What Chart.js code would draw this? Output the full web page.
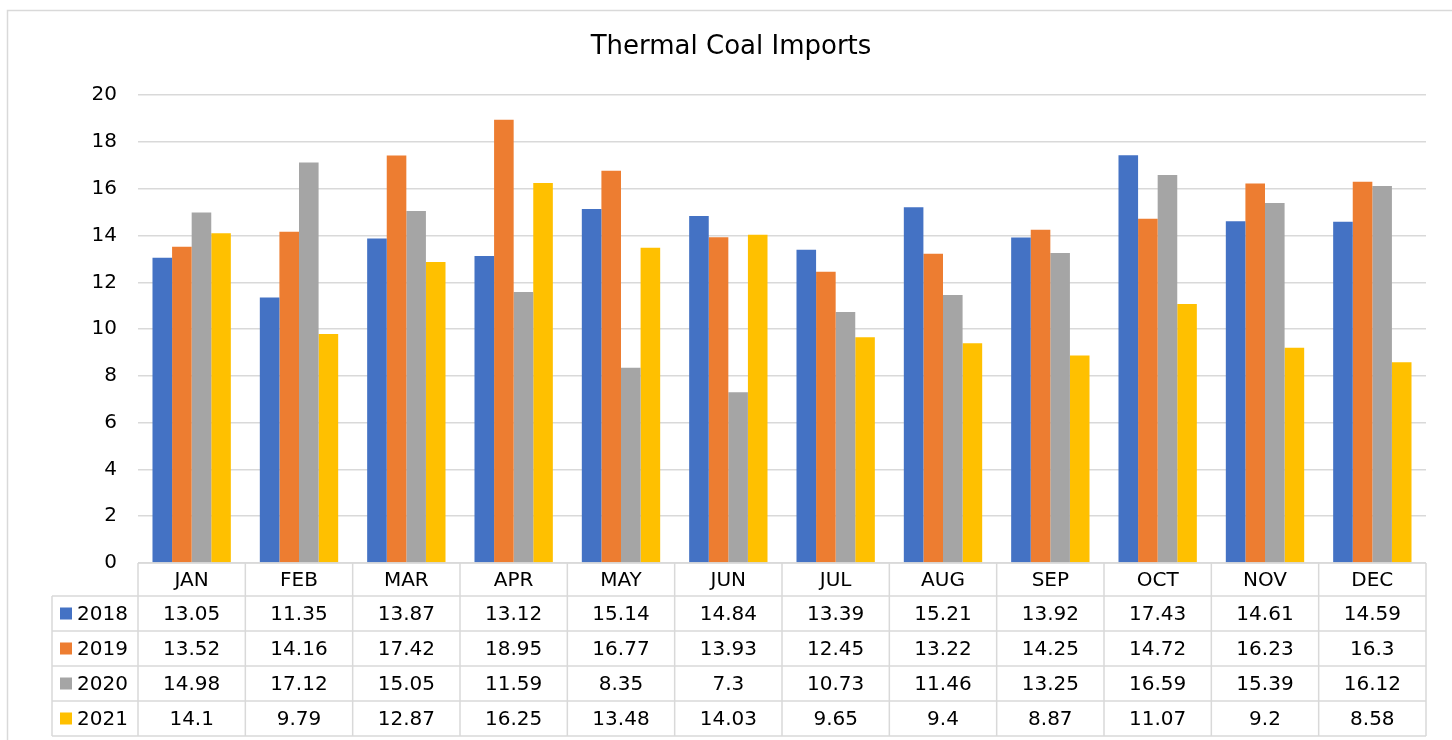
<!DOCTYPE html>
<html>
<head>
<meta charset="utf-8">
<title>Thermal Coal Imports</title>
<script src="https://cdn.jsdelivr.net/npm/chart.js@4"></script>
<style>
  html, body { margin: 0; padding: 0; background: #fff; }
  #wrap { width: 1452px; height: 740px; position: relative; }
</style>
</head>
<body>
<div id="wrap"><canvas id="coalChart" width="1452" height="740"></canvas></div>
<script>
// Chart data
const months = ['JAN', 'FEB', 'MAR', 'APR', 'MAY', 'JUN', 'JUL', 'AUG', 'SEP', 'OCT', 'NOV', 'DEC'];
const years = ['2018', '2019', '2020', '2021'];
const imports2018 = [13.05, 11.35, 13.87, 13.12, 15.14, 14.84, 13.39, 15.21, 13.92, 17.43, 14.61, 14.59];
const imports2019 = [13.52, 14.16, 17.42, 18.95, 16.77, 13.93, 12.45, 13.22, 14.25, 14.72, 16.23, 16.3];
const imports2020 = [14.98, 17.12, 15.05, 11.59, 8.35, 7.3, 10.73, 11.46, 13.25, 16.59, 15.39, 16.12];
const imports2021 = [14.1, 9.79, 12.87, 16.25, 13.48, 14.03, 9.65, 9.4, 8.87, 11.07, 9.2, 8.58];
const yTicks = [0, 2, 4, 6, 8, 10, 12, 14, 16, 18, 20];

const colors = ['#4472C4', '#ED7D31', '#A5A5A5', '#FFC000'];
const series = [imports2018, imports2019, imports2020, imports2021];
const FONT = '"DejaVu Sans", Verdana, sans-serif';
const GRID = '#d9d9d9';

// outer chart frame (cut off at right/bottom like the original)
const framePlugin = {
    id: 'frame',
    beforeDraw(chart) {
        const ctx = chart.ctx;
        ctx.save();
        ctx.strokeStyle = GRID;
        ctx.lineWidth = 1.5;
        ctx.strokeRect(7.5, 10.5, chart.width + 20, chart.height + 20);
        ctx.restore();
    }
};

// data table under the plot, aligned with the x scale
const tablePlugin = {
    id: 'dataTable',
    afterDraw(chart) {
        const ctx = chart.ctx;
        const area = chart.chartArea;
        const xs = chart.scales.x;
        const colW = area.width / months.length;
        const headH = 33;
        const rowH = 35;
        const top = area.bottom;
        const legendLeft = 52;

        ctx.save();
        ctx.strokeStyle = GRID;
        ctx.lineWidth = 1.5;

        // horizontal lines
        ctx.beginPath();
        ctx.moveTo(area.left, top);
        ctx.lineTo(area.right, top);
        for (let r = 0; r <= years.length; r++) {
            const y = top + headH + r * rowH;
            ctx.moveTo(legendLeft, y);
            ctx.lineTo(area.right, y);
        }
        // vertical lines
        const bottom = top + headH + years.length * rowH;
        ctx.moveTo(legendLeft, top + headH);
        ctx.lineTo(legendLeft, bottom);
        for (let c = 0; c <= months.length; c++) {
            const x = area.left + c * colW;
            ctx.moveTo(x, top);
            ctx.lineTo(x, bottom);
        }
        ctx.stroke();

        ctx.fillStyle = '#000';
        ctx.font = '20px ' + FONT;
        ctx.textBaseline = 'middle';
        ctx.textAlign = 'center';

        // month headers
        months.forEach((m, i) => {
            ctx.fillText(m, xs.getPixelForValue(i), top + headH / 2 + 1);
        });

        // rows
        years.forEach((yr, r) => {
            const cy = top + headH + r * rowH + rowH / 2 + 1;
            ctx.fillStyle = colors[r];
            ctx.fillRect(legendLeft + 8, cy - 7, 12, 12);
            ctx.fillStyle = '#000';
            ctx.textAlign = 'left';
            ctx.fillText(yr, legendLeft + 25, cy);
            ctx.textAlign = 'center';
            series[r].forEach((v, i) => {
                ctx.fillText(String(v), xs.getPixelForValue(i), cy);
            });
        });
        ctx.restore();
    }
};

new Chart(document.getElementById('coalChart'), {
    type: 'bar',
    data: {
        labels: months,
        datasets: years.map((yr, i) => ({
            label: yr,
            data: series[i],
            backgroundColor: colors[i],
            borderWidth: 0,
            categoryPercentage: 0.73,
            barPercentage: 1.0
        }))
    },
    options: {
        responsive: false,
        animation: false,
        layout: {
            padding: { left: 36, right: 26, top: 0, bottom: 177 }
        },
        plugins: {
            legend: { display: false },
            tooltip: { enabled: false },
            title: {
                display: true,
                text: 'Thermal Coal Imports',
                color: '#000',
                font: { family: FONT, size: 26, weight: 'normal', lineHeight: 1.2 },
                padding: { top: 32, bottom: 32 }
            }
        },
        scales: {
            x: {
                display: false,
                grid: { display: false }
            },
            y: {
                min: 0,
                max: 20,
                afterBuildTicks(scale) {
                    scale.ticks = yTicks.map(v => ({ value: v }));
                },
                afterFit(scale) {
                    scale.width = 102;
                },
                border: { display: false },
                grid: { color: GRID, lineWidth: 1.5, drawTicks: false },
                ticks: {
                    color: '#000',
                    padding: 21,
                    font: { family: FONT, size: 20 }
                }
            }
        }
    },
    plugins: [framePlugin, tablePlugin]
});
</script>
</body>
</html>
